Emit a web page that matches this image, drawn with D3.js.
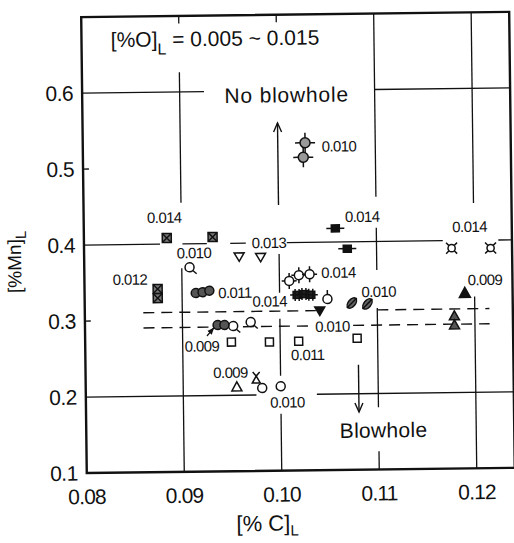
<!DOCTYPE html>
<html>
<head>
<meta charset="utf-8">
<script src="https://cdn.jsdelivr.net/npm/d3@7"></script>
<style>
body{margin:0;background:#fff;}
svg{display:block;font-family:"Liberation Sans",Arial,sans-serif;}
</style>
</head>
<body>
<div id="chart"></div>
<script>
const width = 514, height = 543;

// [%C]L , [%Mn]L pairs, one array per plotting symbol
const crossSquares   = [[0.0885,0.408],[0.0932,0.4085],[0.0875,0.341],[0.0875,0.329]];
const tailCircles    = [[0.0908,0.369],[0.0952,0.291],[0.0970,0.296]];
const openDownTris   = [[0.0959,0.382],[0.0981,0.381]];
const filledDownTris = [[0.1041,0.3095]];
const spikeCircles   = [[0.1028,0.531],[0.1026,0.512]];
const barSquares     = [[0.1058,0.418],[0.1070,0.391]];
const cornerMarks    = [[0.1177,0.390],[0.1217,0.3896]];
const tickCircles    = [[0.1010,0.3495],[0.1020,0.357],[0.1031,0.358]];
const starSquares    = [[0.1018,0.331],[0.1025,0.332],[0.1032,0.331]];
const shadedCircles  = [[0.0914,0.335],[0.0921,0.336],[0.0928,0.338],[0.0936,0.2926],[0.0943,0.2926]];
const slantOvals     = [[0.1074,0.3195],[0.1090,0.318]];
const openSquares    = [[0.0950,0.270],[0.0989,0.2695],[0.1019,0.270],[0.1079,0.273]];
const openTris       = [[0.0955,0.211]];
const tickTris       = [[0.0975,0.221]];
const openCircles    = [[0.0981,0.209],[0.1000,0.211]];
const stemCircles    = [[0.1049,0.325]];
const filledTris     = [[0.1190,0.331]];
const shadedTris     = [[0.1179,0.301],[0.1179,0.289]];

// [%O]L written next to each group: text, [%C]L, [%Mn]L where the text starts
const oxygenLabels = [
  ["0.014",0.0865,0.428],["0.012",0.0829,0.347],["0.010",0.0895,0.381],["0.013",0.0972,0.393],
  ["0.010",0.1045,0.519],["0.014",0.1068,0.426],["0.014",0.1178,0.411],["0.011",0.0937,0.328],
  ["0.014",0.1043,0.353],["0.014",0.0972,0.316],["0.010",0.1084,0.327],["0.009",0.1193,0.341],
  ["0.010",0.1036,0.282],["0.009",0.0902,0.258],["0.011",0.1011,0.245],["0.009",0.0931,0.223],
  ["0.010",0.0989,0.183]
];

const xTicks = [0.08,0.09,0.10,0.11,0.12];
const yTicks = [0.1,0.2,0.3,0.4,0.5,0.6];
const bandLevels = [0.31,0.29];   // dashed boundary band

const x = d3.scaleLinear().domain([0.08,0.1239]).range([84,512]);
const y = d3.scaleLinear().domain([0.1,0.7]).range([470.5,14.5]);

const svg = d3.select('#chart').append('svg')
  .attr('width',width).attr('height',height);
svg.append('rect').attr('width',width).attr('height',height).attr('fill','#fff');

svg.append('defs').append('marker')
  .attr('id','head').attr('viewBox','0 0 10 10').attr('refX',9).attr('refY',5)
  .attr('markerWidth',6).attr('markerHeight',6).attr('orient','auto')
  .append('path').attr('d','M0,1L10,5L0,9Z').attr('fill','#111');

// the scanned figure sits slightly rotated
const g = svg.append('g').attr('transform','rotate(-0.7,295,245)');

// frame
g.append('rect')
  .attr('x',x(0.08)).attr('y',y(0.7))
  .attr('width',x(0.1239)-x(0.08)).attr('height',y(0.1)-y(0.7))
  .attr('fill','none').attr('stroke','#111').attr('stroke-width',2.4);

// broken grid lines, drawn around the annotations like the original
const vSegs = [
  [0.09,0.69,0.70],[0.09,0.454,0.626],[0.09,0.10,0.368],
  [0.10,0.69,0.70],[0.10,0.334,0.385],[0.10,0.225,0.30],[0.10,0.10,0.175],
  [0.11,0.459,0.70],[0.11,0.3625,0.418],[0.11,0.182,0.3125],[0.11,0.10,0.124],
  [0.12,0.449,0.70],[0.12,0.10,0.326]
];
const hSegs = [
  [0.6,0.08,0.0925],[0.6,0.11,0.1239],
  [0.4,0.08,0.0878],[0.4,0.0901,0.0926],[0.4,0.095,0.0966],[0.4,0.1008,0.1168],[0.4,0.1225,0.1239],
  [0.2,0.08,0.0975],[0.2,0.1037,0.1239],
  [0.3,0.08,0.0806],[0.5,0.08,0.0806]
];
g.selectAll('.vg').data(vSegs).join('line')
  .attr('x1',d=>x(d[0])).attr('x2',d=>x(d[0]))
  .attr('y1',d=>y(d[1])).attr('y2',d=>y(d[2]))
  .attr('stroke','#111').attr('stroke-width',1.3);
g.selectAll('.hg').data(hSegs).join('line')
  .attr('x1',d=>x(d[1])).attr('x2',d=>x(d[2]))
  .attr('y1',d=>y(d[0])).attr('y2',d=>y(d[0]))
  .attr('stroke','#111').attr('stroke-width',1.3);

// dashed band
const dashSegs = [
  [bandLevels[0],0.086,0.1037],[bandLevels[0],0.110,0.1215],
  [bandLevels[1],0.086,0.0932],[bandLevels[1],0.0962,0.1032],[bandLevels[1],0.1075,0.1215]
];
g.selectAll('.dash').data(dashSegs).join('line')
  .attr('x1',d=>x(d[1])).attr('x2',d=>x(d[2]))
  .attr('y1',d=>y(d[0])).attr('y2',d=>y(d[0]))
  .attr('stroke','#111').attr('stroke-width',1.4).attr('stroke-dasharray','11,7');

// tick labels
g.selectAll('.yt').data(yTicks).join('text')
  .attr('x',x(0.08)-9).attr('y',d=>y(d)+7.5)
  .attr('text-anchor','end').attr('font-size',21).attr('letter-spacing','-0.5px')
  .attr('fill','#111').text(d=>d.toFixed(1));
g.selectAll('.xt').data(xTicks).join('text')
  .attr('x',d=>x(d)).attr('y',y(0.1)+31)
  .attr('text-anchor','middle').attr('font-size',21).attr('letter-spacing','-0.8px')
  .attr('fill','#111').text(d=>d.toFixed(2));

// axis titles
const yt = g.append('text')
  .attr('transform',`translate(${x(0.08)-63},${y(0.3)-60}) rotate(-90)`)
  .attr('text-anchor','middle').attr('font-size',19).attr('fill','#111');
yt.append('tspan').text('[%Mn]');
yt.append('tspan').attr('dy',5).attr('font-size',15).text('L');

const xt = g.append('text')
  .attr('x',(x(0.10)+x(0.099))/2-10).attr('y',y(0.1)+60)
  .attr('text-anchor','middle').attr('font-size',22).attr('fill','#111');
xt.append('tspan').text('[% C]');
xt.append('tspan').attr('dy',5).attr('font-size',15).text('L');

// oxygen range title
const tt = g.append('text')
  .attr('x',x(0.083)).attr('y',y(0.66))
  .attr('font-size',21).attr('fill','#111');
tt.append('tspan').text('[%O]');
tt.append('tspan').attr('dy',8).attr('font-size',16).text('L');
tt.append('tspan').attr('dy',-8).text(' = 0.005 ~ 0.015');

// region notes and arrows
g.append('text').attr('x',x(0.0946)).attr('y',y(0.5847))
  .attr('font-size',21).attr('letter-spacing','0.8px').attr('fill','#111').text('No blowhole');
g.append('text').attr('x',x(0.106)).attr('y',y(0.1421))
  .attr('font-size',21).attr('letter-spacing','0.3px').attr('fill','#111').text('Blowhole');

function arrow(x1,y1,x2,y2,w){
  g.append('line').attr('x1',x(x1)).attr('y1',y(y1)).attr('x2',x(x2)).attr('y2',y(y2))
    .attr('stroke','#111').attr('stroke-width',w);
}
arrow(0.10,0.4496,0.10,0.5575,1.4);
arrow(0.108,0.238,0.108,0.176,1.4);
g.append('path').attr('d',`M${x(0.10)-4},${y(0.5575)+9}L${x(0.10)},${y(0.5575)}L${x(0.10)+4},${y(0.5575)+9}`)
  .attr('fill','none').attr('stroke','#111').attr('stroke-width',1.4);
g.append('path').attr('d',`M${x(0.108)-4},${y(0.176)-9}L${x(0.108)},${y(0.176)}L${x(0.108)+4},${y(0.176)-9}`)
  .attr('fill','none').attr('stroke','#111').attr('stroke-width',1.4);
g.append('line').attr('x1',x(0.0925)).attr('y1',y(0.2784)).attr('x2',x(0.0932)).attr('y2',y(0.2888))
  .attr('stroke','#111').attr('stroke-width',1.2).attr('marker-end','url(#head)');

// oxygen labels
g.selectAll('.ol').data(oxygenLabels).join('text')
  .attr('x',d=>x(d[1])).attr('y',d=>y(d[2]))
  .attr('font-size',15).attr('letter-spacing','-0.6px').attr('fill','#111')
  .text(d=>d[0]);

// plotting symbols
const shapes = {
  crossSquare: s=>{
    s.append('rect').attr('x',-4.5).attr('y',-4.5).attr('width',9).attr('height',9).attr('fill','#777');
    s.append('path').attr('d','M-4.5,-4.5L4.5,4.5M4.5,-4.5L-4.5,4.5').attr('fill','none');
  },
  tailCircle: s=>{
    s.append('circle').attr('r',4.5).attr('fill','#fff');
    s.append('path').attr('d','M3.2,3.2L7,6.5').attr('fill','none');
  },
  openDownTri: s=>s.append('path').attr('d','M-5,-4L5,-4L0,4.5Z').attr('fill','#fff'),
  filledDownTri: s=>s.append('path').attr('d','M-5,-4L5,-4L0,4.5Z').attr('fill','#111'),
  spikeCircle: s=>{
    s.append('circle').attr('r',5).attr('fill','#999');
    s.append('path').attr('d','M0,-10V-5M0,5V10M-10,0H-5M5,0H10').attr('fill','none');
  },
  barSquare: s=>{
    s.append('rect').attr('x',-4).attr('y',-3.5).attr('width',8).attr('height',7).attr('fill','#111');
    s.append('path').attr('d','M-9,0H9').attr('fill','none');
  },
  cornerMark: s=>{
    s.append('circle').attr('r',3.6).attr('fill','#fff');
    s.append('path').attr('d','M-2.6,-2.6L-5.5,-5.5M2.6,-2.6L5.5,-5.5M-2.6,2.6L-5.5,5.5M2.6,2.6L5.5,5.5').attr('fill','none');
  },
  tickCircle: s=>{
    s.append('circle').attr('r',4.5).attr('fill','#fff');
    s.append('path').attr('d','M0,-4.5V-8M0,4.5V8M-4.5,0H-7.5M4.5,0H7.5').attr('fill','none');
  },
  starSquare: s=>{
    s.append('rect').attr('x',-4).attr('y',-3.5).attr('width',8).attr('height',7).attr('fill','#222');
    s.append('path').attr('d','M-7,0H7M-2,-6V6M2,-6V6').attr('fill','none');
  },
  shadedCircle: s=>s.append('circle').attr('r',4.5).attr('fill','#555'),
  slantOval: s=>{
    s.append('ellipse').attr('rx',3.5).attr('ry',6).attr('transform','rotate(40)').attr('fill','#666');
    s.append('path').attr('d','M-5,5L5,-5').attr('fill','none');
  },
  openSquare: s=>s.append('rect').attr('x',-4).attr('y',-4).attr('width',8).attr('height',8).attr('fill','#fff'),
  openTri: s=>s.append('path').attr('d','M-5,4L5,4L0,-5Z').attr('fill','#fff'),
  tickTri: s=>{
    s.append('path').attr('d','M-4,4L4,4L0,-3Z').attr('fill','#fff');
    s.append('path').attr('d','M-3.5,-7L0,-3L3.5,-7').attr('fill','none');
  },
  openCircle: s=>s.append('circle').attr('r',4.5).attr('fill','#fff'),
  stemCircle: s=>{
    s.append('circle').attr('r',4.5).attr('fill','#fff');
    s.append('path').attr('d','M0,-4.5V-9').attr('fill','none');
  },
  filledTri: s=>s.append('path').attr('d','M-5.5,4.5L5.5,4.5L0,-5.5Z').attr('fill','#111'),
  shadedTri: s=>s.append('path').attr('d','M-5,4L5,4L0,-5Z').attr('fill','#555')
};
const series = [
  ['crossSquare',crossSquares],['tailCircle',tailCircles],['openDownTri',openDownTris],
  ['filledDownTri',filledDownTris],['spikeCircle',spikeCircles],['barSquare',barSquares],
  ['cornerMark',cornerMarks],['tickCircle',tickCircles],['starSquare',starSquares],
  ['shadedCircle',shadedCircles],['slantOval',slantOvals],['openSquare',openSquares],
  ['openTri',openTris],['tickTri',tickTris],['openCircle',openCircles],
  ['stemCircle',stemCircles],['filledTri',filledTris],['shadedTri',shadedTris]
];
series.forEach(([name,pts])=>{
  g.selectAll('.m-'+name).data(pts).join('g')
    .attr('class','m-'+name)
    .attr('transform',d=>`translate(${x(d[0])},${y(d[1])})`)
    .attr('stroke','#111').attr('stroke-width',1.5)
    .each(function(){ shapes[name](d3.select(this)); });
});
</script>
</body>
</html>
